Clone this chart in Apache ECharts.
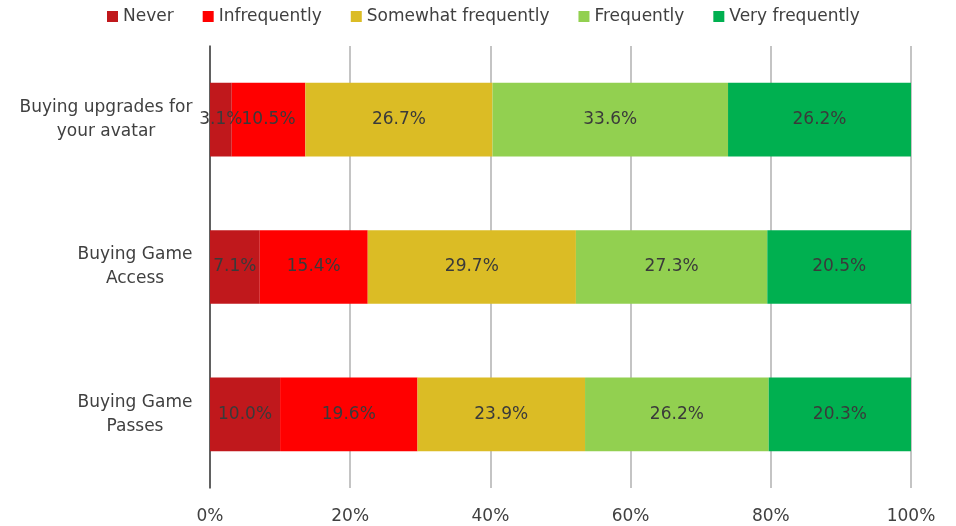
<!DOCTYPE html>
<html>
<head>
<meta charset="utf-8">
<script src="https://cdn.jsdelivr.net/npm/echarts@6/dist/echarts.min.js"></script>
<style>
html,body{margin:0;padding:0;background:#fff;}
#chart{width:956px;height:526px;}
</style>
</head>
<body>
<div id="chart"></div>
<script>
var categories = ["Buying upgrades for\nyour avatar", "Buying Game\nAccess", "Buying Game\nPasses"];
var seriesNames = ["Never", "Infrequently", "Somewhat frequently", "Frequently", "Very frequently"];
var never = [3.1, 7.1, 10.0];
var infrequently = [10.5, 15.4, 19.6];
var somewhat = [26.7, 29.7, 23.9];
var frequently = [33.6, 27.3, 26.2];
var veryFrequently = [26.2, 20.5, 20.3];
var xTicks = [0, 20, 40, 60, 80, 100];

var colors = ["#C0181C", "#FF0000", "#DBBC25", "#92D050", "#00B050"];
var values = [never, infrequently, somewhat, frequently, veryFrequently];
var FONT = "DejaVu Sans";
var FS = 17;

// measure label blocks so lines are centred within a right-aligned block
var ctx = document.createElement('canvas').getContext('2d');
ctx.font = FS + 'px "' + FONT + '"';
var rich = {};
categories.forEach(function (c, i) {
  var w = 0;
  c.split('\n').forEach(function (l) { w = Math.max(w, ctx.measureText(l).width); });
  rich['c' + i] = { width: Math.ceil(w) + 1, align: 'center', fontFamily: FONT, fontSize: FS, color: '#404040', lineHeight: 24 };
});

var chart = echarts.init(document.getElementById('chart'));
chart.setOption({
  animation: false,
  textStyle: { fontFamily: FONT },
  legend: {
    top: 3,
    left: 102,
    itemWidth: 11,
    itemHeight: 11,
    itemGap: 29,
    icon: 'rect',
    textStyle: { fontFamily: FONT, fontSize: FS, color: '#404040' },
    data: seriesNames
  },
  grid: { left: 210, right: 45, top: 46, bottom: 38, containLabel: false },
  xAxis: {
    type: 'value',
    min: xTicks[0],
    max: xTicks[xTicks.length - 1],
    interval: 20,
    axisLine: { show: false },
    axisTick: { show: false },
    axisLabel: { formatter: '{value}%', fontFamily: FONT, fontSize: FS, color: '#404040', margin: 20 },
    splitLine: { show: true, lineStyle: { color: '#B0B0B0', width: 1.5 } }
  },
  yAxis: {
    type: 'category',
    inverse: true,
    data: categories,
    axisLine: { show: true, lineStyle: { color: '#404040', width: 1.5 } },
    axisTick: { show: false },
    axisLabel: {
      align: 'right',
      margin: 17,
      formatter: function (v, idx) {
        return v.split('\n').map(function (l) { return '{c' + idx + '|' + l + '}'; }).join('\n');
      },
      rich: rich
    }
  },
  series: seriesNames.map(function (name, i) {
    return {
      name: name,
      type: 'bar',
      stack: 'total',
      barWidth: '50%',
      itemStyle: { color: colors[i] },
      label: {
        show: true,
        position: 'inside',
        formatter: function (p) { return p.value.toFixed(1) + '%'; },
        fontFamily: FONT,
        fontSize: FS,
        color: '#3A3A3A'
      },
      data: values[i]
    };
  })
});
</script>
</body>
</html>
